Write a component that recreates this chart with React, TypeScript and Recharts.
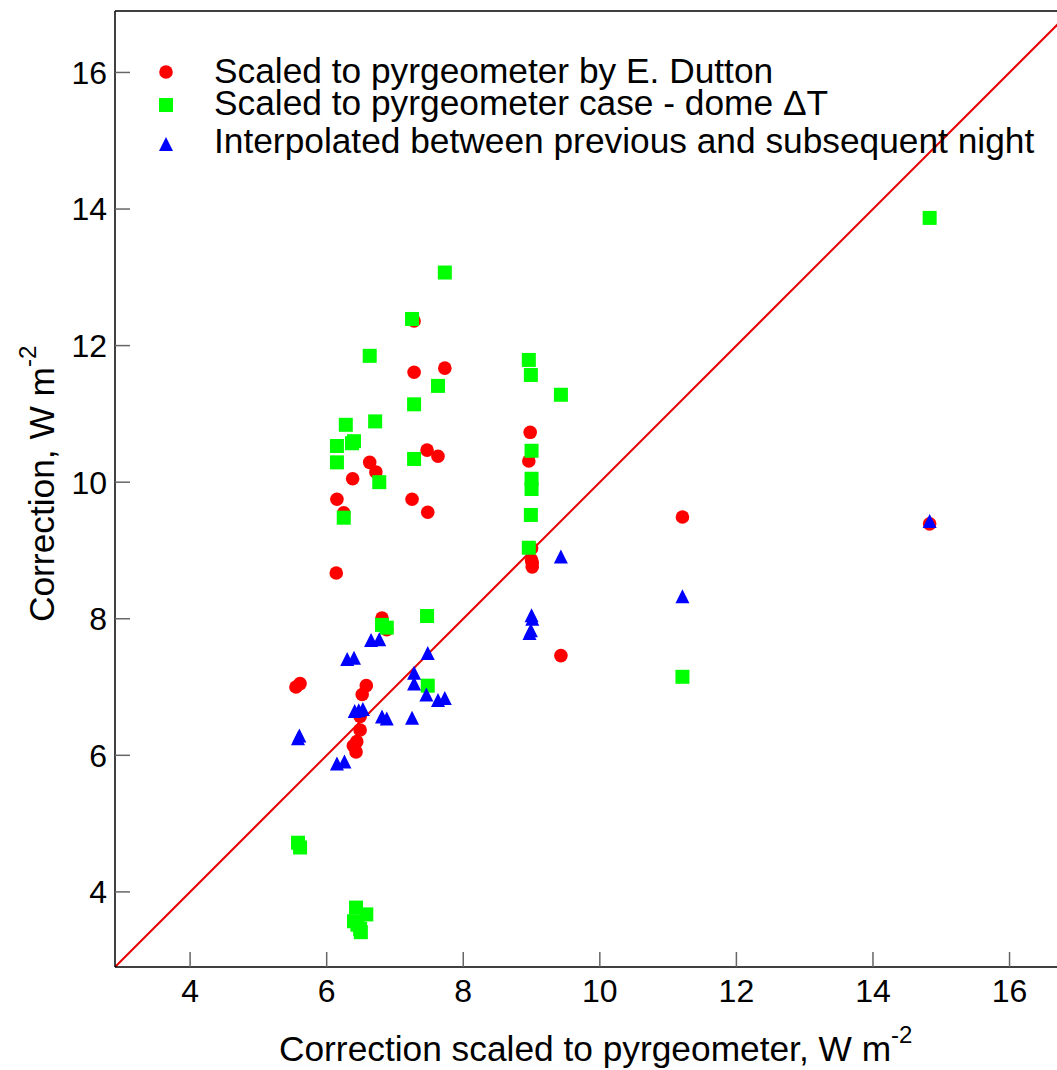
import { ReferenceLine, Scatter, ScatterChart, XAxis, YAxis } from 'recharts';

// Scaled to pyrgeometer by E. Dutton (red circles)
const duttonX = [
  7.28, 7.28, 7.73, 7.47, 7.63, 6.63, 6.72, 6.38, 6.15, 7.25, 7.48, 6.25, 6.14, 8.98, 8.96, 9.0,
  9.0, 9.01, 9.01, 9.43, 11.21, 14.83, 6.81, 6.88, 5.55, 5.61, 6.58, 6.52, 6.49, 6.49, 6.44, 6.39,
  6.43,
];
const duttonY = [
  12.36, 11.61, 11.67, 10.47, 10.38, 10.29, 10.15, 10.05, 9.75, 9.75, 9.56, 9.55, 8.67, 10.73, 10.31, 9.03,
  8.86, 8.76, 8.82, 7.46, 9.49, 9.39, 8.01, 7.84, 7.0, 7.05, 7.02, 6.89, 6.57, 6.37, 6.2, 6.14,
  6.05,
];

// Scaled to pyrgeometer case - dome dT (green squares)
const caseX = [
  7.25, 7.73, 6.63, 7.63, 7.28, 6.28, 6.71, 6.4, 6.37, 6.15, 6.15, 7.28, 6.77, 6.25, 8.96, 8.99,
  9.43, 9.0, 9.0, 9.0, 8.99, 8.96, 11.21, 14.83, 6.81, 6.88, 7.47, 7.48, 5.58, 5.61, 6.43, 6.58,
  6.4, 6.45, 6.49, 6.5,
];
const caseY = [
  12.39, 13.07, 11.85, 11.41, 11.14, 10.84, 10.89, 10.6, 10.57, 10.53, 10.29, 10.34, 10.0, 9.48, 11.79, 11.57,
  11.28, 10.46, 10.05, 9.9, 9.52, 9.04, 7.15, 13.87, 7.91, 7.87, 8.04, 7.02, 4.72, 4.65, 3.77, 3.67,
  3.57, 3.52, 3.46, 3.41,
];

// Interpolated between previous and subsequent night (blue triangles)
const interpX = [
  9.43, 9.0, 9.01, 8.97, 8.99, 11.21, 14.83, 6.65, 6.77, 6.3, 6.4, 7.48, 7.28, 7.28, 7.46, 7.63,
  7.73, 6.41, 6.47, 6.53, 6.81, 6.88, 7.25, 5.58, 5.6, 6.15, 6.26,
];
const interpY = [
  8.91, 8.05, 8.0, 7.79, 7.83, 8.33, 9.43, 7.69, 7.7, 7.41, 7.43, 7.5, 7.21, 7.05, 6.89, 6.81,
  6.84, 6.65, 6.66, 6.68, 6.57, 6.54, 6.55, 6.25, 6.29, 5.88, 5.91,
];

const xTicks = [4, 6, 8, 10, 12, 14, 16];
const yTicks = [4, 6, 8, 10, 12, 14, 16];
const axisDomain = [2.9, 16.9];
const oneToOne = [2.9, 16.9];

const legendLabels = [
  'Scaled to pyrgeometer by E. Dutton',
  'Scaled to pyrgeometer case - dome \u0394T',
  'Interpolated between previous and subsequent night',
];

const RED = '#ff0000';
const GREEN = '#00ff00';
const BLUE = '#0000ff';

const zip = (xs: number[], ys: number[]) => xs.map((x, i) => ({ x, y: ys[i] }));

const duttonData = zip(duttonX, duttonY);
const caseData = zip(caseX, caseY);
const interpData = zip(interpX, interpY);

type ShapeProps = { cx?: number; cy?: number };

const RedDot = ({ cx = 0, cy = 0 }: ShapeProps) => <circle cx={cx} cy={cy} r={6.8} fill={RED} />;
const GreenSquare = ({ cx = 0, cy = 0 }: ShapeProps) => (
  <rect x={cx - 7} y={cy - 7} width={14} height={14} fill={GREEN} />
);
const BlueTriangle = ({ cx = 0, cy = 0 }: ShapeProps) => (
  <polygon points={`${cx},${cy - 7} ${cx - 7},${cy + 7} ${cx + 7},${cy + 7}`} fill={BLUE} />
);

const FONT = '"Liberation Sans", Arial, Helvetica, sans-serif';

const tickStyle = { fill: '#000', fontSize: 32 };
const tickLineStyle = { stroke: '#666', strokeWidth: 1.5 };
const axisLineStyle = { stroke: '#000', strokeWidth: 1.5 };

function XTitle() {
  return (
    <text x={279} y={1061} fontSize={35.3} fill="#000">
      Correction scaled to pyrgeometer, W m
      <tspan fontSize={24} dy={-18}>
        -2
      </tspan>
    </text>
  );
}

function YTitle() {
  return (
    <text transform="translate(54,622) rotate(-90)" fontSize={35.3} fill="#000">
      Correction, W m
      <tspan fontSize={24} dy={-18}>
        -2
      </tspan>
    </text>
  );
}

function LegendOverlay() {
  const rows = [
    { y: 83, marker: <RedDot cx={166} cy={72} /> },
    { y: 115, marker: <GreenSquare cx={166} cy={105} /> },
    { y: 153, marker: <BlueTriangle cx={166} cy={144} /> },
  ];
  return (
    <svg
      width={1057}
      height={200}
      style={{ position: 'absolute', left: 0, top: 0, pointerEvents: 'none' }}
    >
      {rows.map((row, i) => (
        <g key={legendLabels[i]}>
          {row.marker}
          <text x={214} y={row.y} fontSize={35.3} fill="#000" fontFamily={FONT}>
            {legendLabels[i]}
          </text>
        </g>
      ))}
    </svg>
  );
}

export default function App() {
  return (
    <div
      style={{
        position: 'absolute',
        left: 0,
        top: 0,
        width: 1057,
        height: 1070,
        overflow: 'hidden',
        background: '#fff',
        fontFamily: FONT,
      }}
    >
      <ScatterChart width={1072} height={1070} margin={{ top: 10, right: 0, bottom: 0, left: 0 }}>
        <XAxis
          xAxisId="b"
          type="number"
          dataKey="x"
          domain={axisDomain}
          ticks={xTicks}
          interval={0}
          allowDataOverflow
          height={103}
          tickSize={-15}
          tickMargin={27}
          tick={tickStyle}
          tickLine={tickLineStyle}
          axisLine={axisLineStyle}
          label={{ content: () => <XTitle /> }}
        />
        <XAxis
          xAxisId="t"
          orientation="top"
          type="number"
          dataKey="x"
          domain={axisDomain}
          ticks={xTicks}
          interval={0}
          allowDataOverflow
          height={1}
          tickSize={-15}
          tick={false}
          tickLine={tickLineStyle}
          axisLine={axisLineStyle}
        />
        <YAxis
          yAxisId="l"
          type="number"
          dataKey="y"
          domain={axisDomain}
          ticks={yTicks}
          interval={0}
          allowDataOverflow
          width={115}
          tickSize={-15}
          tickMargin={23}
          tick={tickStyle}
          tickLine={tickLineStyle}
          axisLine={axisLineStyle}
          label={{ content: () => <YTitle /> }}
        />
        <YAxis
          yAxisId="r"
          orientation="right"
          type="number"
          dataKey="y"
          domain={axisDomain}
          ticks={yTicks}
          interval={0}
          allowDataOverflow
          width={1}
          tickSize={-15}
          tick={false}
          tickLine={tickLineStyle}
          axisLine={axisLineStyle}
        />
        <Scatter
          xAxisId="b"
          yAxisId="l"
          data={duttonData}
          shape={(p: ShapeProps) => <RedDot cx={p.cx} cy={p.cy} />}
          isAnimationActive={false}
        />
        <Scatter
          xAxisId="b"
          yAxisId="l"
          data={caseData}
          shape={(p: ShapeProps) => <GreenSquare cx={p.cx} cy={p.cy} />}
          isAnimationActive={false}
        />
        <Scatter
          xAxisId="b"
          yAxisId="l"
          data={interpData}
          shape={(p: ShapeProps) => <BlueTriangle cx={p.cx} cy={p.cy} />}
          isAnimationActive={false}
        />
        <ReferenceLine
          xAxisId="b"
          yAxisId="l"
          segment={[
            { x: oneToOne[0], y: oneToOne[0] },
            { x: oneToOne[1], y: oneToOne[1] },
          ]}
          stroke="#e60000"
          strokeWidth={2}
        />
      </ScatterChart>
      <LegendOverlay />
    </div>
  );
}
